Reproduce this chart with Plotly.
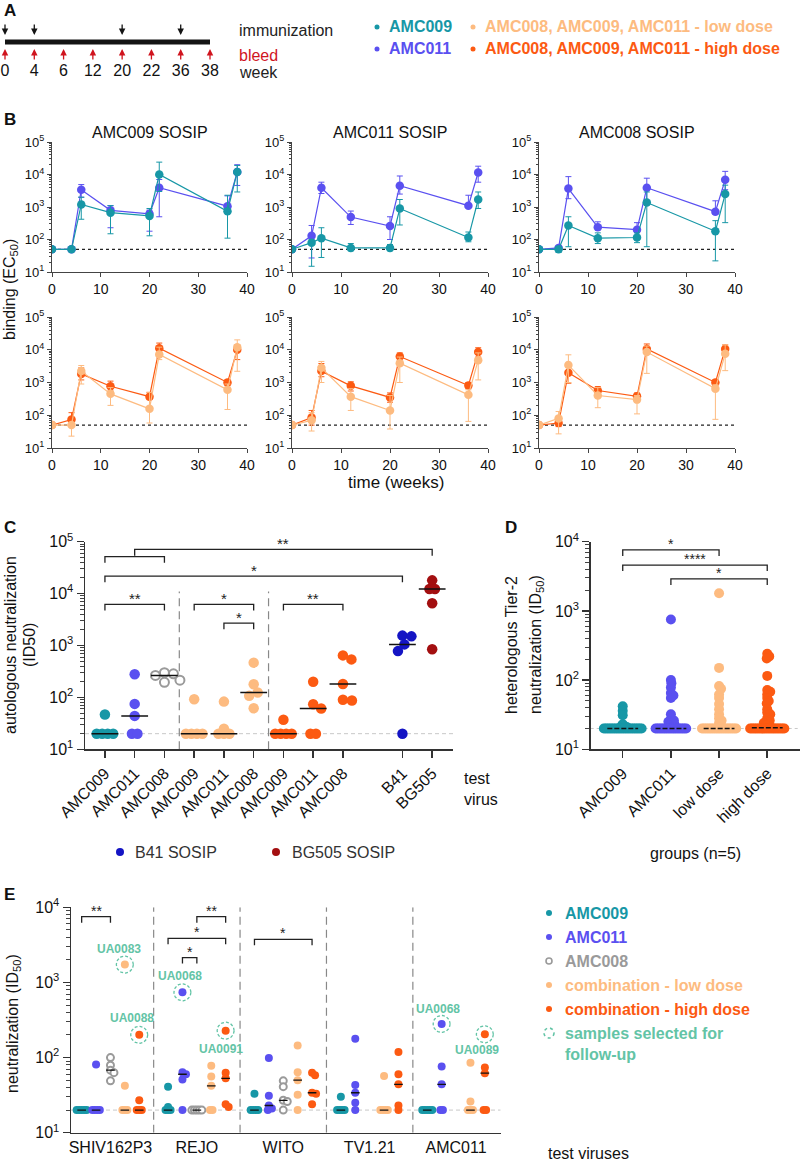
import numpy as np
import plotly.graph_objects as go

W, H = 800, 1163
FONT = "Liberation Sans, Arial, sans-serif"

C_AMC009 = "#1797a6"
C_AMC011 = "#5a50f0"
C_AMC008 = "#9a9a9a"
C_LOW = "#fdbb80"
C_HIGH = "#fc5a12"
C_B41 = "#1414c4"
C_BG505 = "#a30f10"
C_SEL = "#63c4a6"
C_BLEED = "#d0141e"

# ---------------- Panel A data ----------------
weeks = [0, 4, 6, 12, 20, 22, 36, 38]
immunization_weeks = [0, 4, 20, 36]
bleed_weeks = [0, 4, 6, 12, 20, 22, 36, 38]

# ---------------- Panel B data (binding EC50) ----------------
b_titles = ["AMC009 SOSIP", "AMC011 SOSIP", "AMC008 SOSIP"]
b_weeks = [0, 4, 6, 12, 20, 22, 36, 38]
b_cutoff = 50

# antigen AMC009 SOSIP
ag009_amc011 = [50, 50, 3400, 790, 620, 3900, 1060, 12000]
ag009_amc011_hi = [50, 50, 4900, 1100, 800, 7000, 2200, 20000]
ag009_amc011_lo = [50, 50, 2000, 230, 180, 500, 650, 4600]
ag009_amc009 = [50, 50, 1200, 670, 530, 10000, 740, 12000]
ag009_amc009_hi = [50, 50, 2000, 1100, 900, 24000, 2300, 19000]
ag009_amc009_lo = [50, 50, 420, 150, 130, 3000, 110, 2900]
ag009_high = [50, 74, 1830, 770, 370, 11200, 1000, 10000]
ag009_high_hi = [50, 120, 2800, 1100, 500, 16000, 1200, 14000]
ag009_high_lo = [50, 50, 1200, 550, 300, 8000, 800, 5000]
ag009_low = [50, 50, 2230, 450, 157, 7200, 600, 12000]
ag009_low_hi = [50, 60, 3300, 700, 500, 12000, 900, 20000]
ag009_low_lo = [50, 23, 900, 200, 58, 5000, 150, 2200]

# antigen AMC011 SOSIP
ag011_amc011 = [50, 130, 3900, 490, 260, 4500, 1100, 11500]
ag011_amc011_hi = [50, 270, 5800, 750, 500, 9000, 2300, 18000]
ag011_amc011_lo = [50, 27, 2600, 290, 100, 2500, 1000, 5800]
ag011_amc009 = [50, 80, 110, 55, 55, 900, 115, 1700]
ag011_amc009_hi = [50, 100, 230, 75, 70, 1700, 170, 2900]
ag011_amc009_lo = [50, 15, 28, 45, 45, 280, 85, 900]
ag011_high = [50, 85, 2230, 790, 350, 6200, 810, 8500]
ag011_high_hi = [50, 140, 3800, 1050, 480, 8000, 1000, 11500]
ag011_high_lo = [50, 50, 1500, 550, 250, 4500, 650, 6000]
ag011_low = [50, 70, 2800, 370, 140, 3900, 420, 4800]
ag011_low_hi = [50, 120, 4400, 650, 400, 6000, 600, 8000]
ag011_low_lo = [50, 33, 1000, 140, 38, 1000, 65, 1200]

# antigen AMC008 SOSIP
ag008_amc011 = [50, 55, 3700, 240, 200, 3900, 720, 6900]
ag008_amc011_hi = [50, 65, 8600, 350, 330, 7700, 1550, 12500]
ag008_amc011_lo = [50, 50, 1800, 200, 170, 1500, 600, 3400]
ag008_amc009 = [50, 50, 270, 110, 115, 1370, 180, 2500]
ag008_amc009_hi = [50, 60, 500, 160, 160, 2900, 380, 4700]
ag008_amc009_lo = [50, 40, 60, 75, 80, 60, 22, 330]
ag008_high = [50, 58, 2000, 570, 380, 10600, 1000, 10600]
ag008_high_hi = [50, 75, 3000, 750, 480, 15000, 1200, 14000]
ag008_high_lo = [50, 45, 950, 450, 300, 8000, 850, 8000]
ag008_low = [50, 80, 3400, 400, 300, 8500, 650, 7500]
ag008_low_hi = [50, 130, 7000, 700, 400, 13000, 850, 14000]
ag008_low_lo = [50, 27, 1000, 170, 110, 1900, 75, 2300]

# ---------------- Panel C data (autologous ID50) ----------------
c_test_virus = ["AMC009", "AMC011", "AMC008", "AMC009", "AMC011", "AMC008",
                "AMC009", "AMC011", "AMC008", "B41", "BG505"]
c_single = [[47, 20, 20, 20, 20], [279, 75, 44, 20, 20], [300, 285, 265, 215, 195]]
c_low = [[92, 20, 20, 20, 20], [83, 25, 20, 20, 20], [467, 179, 124, 107, 62]]
c_high = [[37, 20, 20, 20, 20], [200, 74, 61, 20, 20], [645, 540, 181, 90, 87]]
c_b41 = [1550, 1500, 1050, 780, 20]
c_bg505 = [18000, 12300, 12300, 6500, 845]
c_baseline = 20
# brackets: (group index from, group index to, level, label)
c_brackets = [(0, 2, 6200, "**"), (3, 5, 6200, "*"), (4, 5, 2700, "*"), (6, 8, 6200, "**"),
              (0, 9, 21800, "*"), (0, 2, 51600, ""), (1, 10, 71000, "**")]

# ---------------- Panel D data (heterologous tier-2) ----------------
d_groups = ["AMC009", "AMC011", "low dose", "high dose"]
d_amc009 = [42, 36, 31, 23, 22, 22, 21,
            20, 20, 20, 20, 20, 20, 20, 20, 20, 20, 20, 20, 20, 20, 20, 20, 20, 20, 20, 20, 20, 20]
d_amc011 = [750, 100, 90, 78, 65, 60, 55, 32, 27, 26, 25, 24, 23, 22, 21,
            20, 20, 20, 20, 20, 20, 20, 20, 20, 20, 20, 20, 20, 20, 20, 20, 20, 20]
d_low = [1800, 150, 82, 75, 62, 55, 45, 38, 32, 28, 26, 24, 22, 21,
         20, 20, 20, 20, 20, 20, 20, 20, 20, 20, 20, 20, 20, 20, 20, 20, 20, 20, 20, 20]
d_high = [240, 220, 205, 115, 72, 68, 62, 55, 50, 46, 38, 34, 32, 28, 26, 25, 24, 23, 22, 21,
          20, 20, 20, 20, 20, 20, 20, 20, 20, 20, 20, 20, 20, 20, 20, 20, 20, 20, 20, 20]
d_brackets = [(0, 2, 7600, "*"), (0, 3, 4600, "****"), (1, 3, 2900, "*")]

# ---------------- Panel E data (neutralization per test virus) ----------------
e_viruses = ["SHIV162P3", "REJO", "WITO", "TV1.21", "AMC011"]
e_amc009 = [[20, 20, 20, 20, 20], [41, 22, 20, 20, 20], [33, 20, 20, 20, 20],
            [30, 20, 20, 20, 20], [20, 20, 20, 20, 20]]
e_amc011 = [[81, 20, 20, 20, 20], [738, 64, 60, 51, 20], [99, 31, 23, 21, 20],
            [178, 43, 34, 25, 20], [280, 76, 44, 20, 20]]
e_amc008 = [[100, 79, 68, 63, 49], [20, 20, 20, 20, 20], [49, 41, 27, 26, 20], [], []]
e_low = [[1730, 42, 20, 20, 20], [78, 56, 42, 20, 20], [145, 64, 50, 32, 20],
         [57, 20, 20, 20, 20], [85, 26, 20, 20, 20]]
e_high = [[201, 27, 20, 20, 20], [228, 63, 53, 24, 22], [63, 58, 34, 33, 24],
          [119, 60, 44, 23, 20], [204, 74, 62, 20, 20]]
# brackets: (virus, group from, group to, level, label)
e_brackets = [(0, 0, 2, 7500, "**"), (1, 2, 4, 7500, "**"), (1, 0, 4, 3860, "*"),
              (1, 1, 2, 2140, "*"), (2, 0, 4, 3750, "*")]
# selected samples: (virus, group, value, name)
e_selected = [(0, 3, 1730, "UA0083"), (0, 4, 201, "UA0088"), (1, 1, 738, "UA0068"),
              (1, 4, 228, "UA0091"), (4, 1, 280, "UA0068"), (4, 4, 204, "UA0089")]
# label offsets in pixels (style)
e_sel_shift = [(-6, 16), (-7, 17), (-2, 16), (-5, -18), (-4, 15), (-8, -16)]

# ====================================================================
fig = go.Figure()
layout = dict(width=W, height=H, margin=dict(l=0, r=0, t=0, b=0, pad=0, autoexpand=False),
              autosize=False, paper_bgcolor="white", plot_bgcolor="white", showlegend=False,
              font=dict(family=FONT, color="#222"))
ann = []
shapes = []


def xd(x0, x1):
    return [x0 / W, x1 / W]


def yd(top, bottom):
    return [1 - bottom / H, 1 - top / H]


def refs(n):
    return ("x" if n == 1 else f"x{n}", "y" if n == 1 else f"y{n}")


def key(a, n):
    return f"{a}axis" if n == 1 else f"{a}axis{n}"


def paper_text(x, y, text, size=16, color="#222", xanchor="center", angle=0, bold=False, align="left"):
    ann.append(dict(xref="paper", yref="paper", x=x / W, y=1 - y / H, text=(f"<b>{text}</b>" if bold else text),
                    showarrow=False, xanchor=xanchor, yanchor="middle", textangle=angle, align=align,
                    font=dict(family=FONT, size=size, color=color)))


def dot(x, y, d, color, open_=False, dash=None):
    shapes.append(dict(type="circle", xref="paper", yref="paper",
                       x0=(x - d / 2) / W, x1=(x + d / 2) / W, y0=1 - (y + d / 2) / H, y1=1 - (y - d / 2) / H,
                       fillcolor=("rgba(0,0,0,0)" if open_ else color),
                       line=dict(color=color, width=(1.6 if open_ else 0), dash=dash)))


def log_ticks(lo, hi):
    vals = [10 ** p for p in range(lo, hi + 1)]
    txt = [f"10<sup>{p}</sup>" for p in range(lo, hi + 1)]
    return vals, txt


def swarm(vals, ppd, ppu, dmin, gap):
    n = len(vals)
    ylog = [np.log10(v) * ppd for v in vals]
    order = sorted(range(n), key=lambda i: -vals[i])
    offs = [0.0] * n
    placed = []
    k = 0
    while k < n:
        j = k
        while j < n and vals[order[j]] == vals[order[k]]:
            j += 1
        run = order[k:j]
        m = len(run)
        if m > 1:
            for r, idx in enumerate(run):
                o = (r - (m - 1) / 2) * gap
                offs[idx] = o
                placed.append((o, ylog[idx]))
        else:
            idx = run[0]
            c = 0
            found = None
            while found is None:
                cands = [0.0] if c == 0 else [c * 0.5, -c * 0.5]
                for o in cands:
                    if all((o - px) ** 2 + (ylog[idx] - py) ** 2 >= dmin ** 2 for px, py in placed):
                        found = o
                        break
                c += 1
            offs[idx] = found
            placed.append((found, ylog[idx]))
        k = j
    return [o / ppu for o in offs]


def bracket_trace(segs, xr, yr, drop_dec):
    xs, ys = [], []
    f = 10 ** drop_dec
    for x0, x1, lvl in segs:
        xs += [x0, x0, x1, x1, None]
        ys += [lvl / f, lvl, lvl, lvl / f, None]
    return go.Scatter(x=xs, y=ys, mode="lines", line=dict(color="#222", width=1.3),
                      xaxis=xr, yaxis=yr, hoverinfo="skip")


MINOR = dict(ticks="outside", ticklen=3, dtick="D1", tickcolor="#444", tickwidth=1, showgrid=False)

# ====================== Panel A (schematic timeline, evenly spaced bleeds) ======================
A_PX0, A_STEP = 5, 205 / (len(bleed_weeks) - 1)
a_cats = [str(w) for w in bleed_weeks]
layout["xaxis"] = dict(domain=xd(0, 300), type="category", categoryorder="array", categoryarray=a_cats,
                       range=[-A_PX0 / A_STEP, (300 - A_PX0) / A_STEP], visible=False, anchor="y",
                       automargin=False)
layout["yaxis"] = dict(domain=yd(0, 90), range=[90, 0], visible=False, anchor="x", automargin=False)
fig.add_trace(go.Scatter(x=[a_cats[0], a_cats[-1]], y=[42, 42], mode="lines",
                         line=dict(color="#141414", width=5), xaxis="x", yaxis="y"))
fig.add_trace(go.Scatter(x=a_cats, y=[72] * len(a_cats), mode="text", text=a_cats,
                         textfont=dict(size=16, color="#111", family=FONT), xaxis="x", yaxis="y"))
for w in immunization_weeks:
    ann.append(dict(xref="x", yref="y", x=a_cats.index(str(w)), y=35, ax=0, ay=-12, showarrow=True,
                    arrowhead=2, arrowsize=1, arrowwidth=1.3, arrowcolor="#141414", text=""))
for w in bleed_weeks:
    ann.append(dict(xref="x", yref="y", x=a_cats.index(str(w)), y=49, ax=0, ay=12, showarrow=True,
                    arrowhead=2, arrowsize=1, arrowwidth=1.3, arrowcolor=C_BLEED, text=""))
paper_text(237, 30, "immunization", xanchor="left")
paper_text(237, 55, "bleed", color=C_BLEED, xanchor="left")
paper_text(237, 72, "week", xanchor="left")
for (bx, by, col, txt) in [(377, 27, C_AMC009, "AMC009"), (377, 49, C_AMC011, "AMC011"),
                           (473, 27, C_LOW, "AMC008, AMC009, AMC011 - low dose"),
                           (473, 49, C_HIGH, "AMC008, AMC009, AMC011 - high dose")]:
    dot(bx, by, 5, col)
    paper_text(bx + 10, by, txt, color=col, xanchor="left", bold=True)

# panel letters
for (lx, ly, L) in [(2, 10, "A"), (2, 120, "B"), (2, 527, "C"), (503, 527, "D"), (2, 894, "E")]:
    paper_text(lx, ly, L, size=17, xanchor="left", bold=True, color="#111")

# ====================== Panel B ======================
b_cols_px = [(52, 247), (292, 488), (539, 735)]
b_rows_px = [(142, 272), (317, 448)]
B_XRANGE = [0, 40]
b_series = [
    [  # top row
        [("AMC011", C_AMC011, ag009_amc011, ag009_amc011_hi, ag009_amc011_lo),
         ("AMC009", C_AMC009, ag009_amc009, ag009_amc009_hi, ag009_amc009_lo)],
        [("AMC011", C_AMC011, ag011_amc011, ag011_amc011_hi, ag011_amc011_lo),
         ("AMC009", C_AMC009, ag011_amc009, ag011_amc009_hi, ag011_amc009_lo)],
        [("AMC011", C_AMC011, ag008_amc011, ag008_amc011_hi, ag008_amc011_lo),
         ("AMC009", C_AMC009, ag008_amc009, ag008_amc009_hi, ag008_amc009_lo)],
    ],
    [  # bottom row
        [("high", C_HIGH, ag009_high, ag009_high_hi, ag009_high_lo),
         ("low", C_LOW, ag009_low, ag009_low_hi, ag009_low_lo)],
        [("high", C_HIGH, ag011_high, ag011_high_hi, ag011_high_lo),
         ("low", C_LOW, ag011_low, ag011_low_hi, ag011_low_lo)],
        [("high", C_HIGH, ag008_high, ag008_high_hi, ag008_high_lo),
         ("low", C_LOW, ag008_low, ag008_low_hi, ag008_low_lo)],
    ],
]
bt_v, bt_t = log_ticks(1, 5)
for r in range(2):
    for c in range(3):
        n = 2 + r * 3 + c
        xr, yr = refs(n)
        layout[key("x", n)] = dict(domain=xd(*b_cols_px[c]), range=B_XRANGE, tickvals=[0, 10, 20, 30, 40],
                                   ticks="outside", ticklen=4, tickcolor="#444", showline=True,
                                   linecolor="#444", linewidth=1, showgrid=False, zeroline=False,
                                   tickfont=dict(size=14, color="#111"), anchor=yr, automargin=False)
        layout[key("y", n)] = dict(domain=yd(*b_rows_px[r]), type="log", range=[1, 5], tickmode="array",
                                   tickvals=bt_v, ticktext=bt_t, ticks="outside", ticklen=4,
                                   tickcolor="#444", showline=True, linecolor="#444", linewidth=1,
                                   showgrid=False, zeroline=False, minor=dict(MINOR, ticklen=2),
                                   tickfont=dict(size=13, color="#111"), anchor=xr, automargin=False)
        fig.add_trace(go.Scatter(x=B_XRANGE, y=[b_cutoff, b_cutoff], mode="lines",
                                 line=dict(color="#222", width=1.2, dash="dot"), xaxis=xr, yaxis=yr))
        for (nm, col, v, hi, lo) in b_series[r][c]:
            v = np.array(v, float)
            fig.add_trace(go.Scatter(
                x=b_weeks, y=v, mode="lines+markers", name=nm,
                line=dict(color=col, width=1.2), marker=dict(color=col, size=8.5),
                error_y=dict(type="data", symmetric=False, array=np.array(hi) - v,
                             arrayminus=v - np.array(lo), color=col, thickness=1, width=3),
                xaxis=xr, yaxis=yr))
        if r == 0:
            paper_text((b_cols_px[c][0] + b_cols_px[c][1]) / 2, 132, b_titles[c], size=16, color="#111")
paper_text(10, 290, "binding (EC<sub>50</sub>)", size=16, angle=-90, color="#111")
paper_text(396, 482, "time (weeks)", size=17, color="#111")

# ====================== Panel C ======================
NC = 8
xr, yr = refs(NC)
C_XRANGE = [-0.67, 11.7]
C_PPD = (749.3 - 541.7) / 4
C_PPU = (453 - 85) / (C_XRANGE[1] - C_XRANGE[0])
c_pos = [i if i < 9 else i + 1 for i in range(len(c_test_virus))]
c_vals = c_single + c_low + c_high + [c_b41, c_bg505]
c_cols = [C_AMC009, C_AMC011, C_AMC008, C_LOW, C_LOW, C_LOW, C_HIGH, C_HIGH, C_HIGH, C_B41, C_BG505]
ct_v, ct_t = log_ticks(1, 5)
layout[key("x", NC)] = dict(domain=xd(85, 453), range=C_XRANGE, tickmode="array", tickvals=c_pos,
                            ticktext=c_test_virus, tickangle=-45, ticks="outside", ticklen=7, tickwidth=1.5,
                            tickcolor="#333", showline=True, linecolor="#333", linewidth=1.5,
                            showgrid=False, zeroline=False, tickfont=dict(size=16, color="#111"), anchor=yr,
                            automargin=False)
layout[key("y", NC)] = dict(domain=yd(541.7, 749.3), type="log", range=[1, 5], tickmode="array",
                            tickvals=ct_v, ticktext=ct_t, ticks="outside", ticklen=7, tickwidth=1.5,
                            tickcolor="#333", showline=True, linecolor="#333", linewidth=1.5,
                            showgrid=False, zeroline=False, minor=dict(MINOR, ticklen=4),
                            tickfont=dict(size=16, color="#111"), anchor=xr, automargin=False)
fig.add_trace(go.Scatter(x=C_XRANGE, y=[c_baseline] * 2, mode="lines",
                         line=dict(color="#c8c8c8", width=1, dash="4px,3px"), xaxis=xr, yaxis=yr))
for sep in [(c_pos[2] + c_pos[3]) / 2, (c_pos[5] + c_pos[6]) / 2]:
    fig.add_trace(go.Scatter(x=[sep, sep], y=[10, 11000], mode="lines",
                             line=dict(color="#888", width=1.2, dash="8px,5px"), xaxis=xr, yaxis=yr))
med_x, med_y = [], []
for i, vals in enumerate(c_vals):
    offs = swarm(vals, C_PPD, C_PPU, 9, 5.5)
    is_open = c_cols[i] == C_AMC008
    fig.add_trace(go.Scatter(
        x=[c_pos[i] + o for o in offs], y=vals, mode="markers",
        marker=dict(color=("white" if is_open else c_cols[i]), size=(9 if is_open else 10.5),
                    line=dict(color=c_cols[i], width=(2 if is_open else 0))),
        xaxis=xr, yaxis=yr))
    m = float(np.median(vals))
    med_x += [c_pos[i] - 0.45, c_pos[i] + 0.45, None]
    med_y += [m, m, None]
fig.add_trace(go.Scatter(x=med_x, y=med_y, mode="lines", line=dict(color="#111", width=1.5),
                         xaxis=xr, yaxis=yr))
segs = [(c_pos[a], c_pos[b], lvl) for a, b, lvl, _ in c_brackets]
fig.add_trace(bracket_trace(segs, xr, yr, 0.12))
for a, b, lvl, lab in c_brackets:
    if lab:
        ann.append(dict(xref=xr, yref=yr, x=(c_pos[a] + c_pos[b]) / 2, y=np.log10(lvl), text=lab,
                        showarrow=False, yanchor="middle", yshift=6, font=dict(size=15, color="#222")))
paper_text(10, 645, "autologous neutralization", size=16, angle=-90, color="#111")
paper_text(29, 645, "(ID50)", size=16, angle=-90, color="#111")
paper_text(462, 789, "test<br>virus", size=16, xanchor="left", color="#111")
dot(120, 852, 8, C_B41)
paper_text(133, 852, "B41 SOSIP", size=16, xanchor="left", color="#333")
dot(276, 852, 8, C_BG505)
paper_text(290, 852, "BG505 SOSIP", size=16, xanchor="left", color="#333")

# ====================== Panel D ======================
ND = 9
xr, yr = refs(ND)
D_XRANGE = [-0.665, 3.68]
D_PPD = (749.3 - 541.7) / 3
D_PPU = (800 - 590.7) / (D_XRANGE[1] - D_XRANGE[0])
dt_v, dt_t = log_ticks(1, 4)
d_vals = [d_amc009, d_amc011, d_low, d_high]
d_cols = [C_AMC009, C_AMC011, C_LOW, C_HIGH]
layout[key("x", ND)] = dict(domain=xd(590.7, 800), range=D_XRANGE, tickmode="array",
                            tickvals=list(range(len(d_groups))), ticktext=d_groups, tickangle=-45,
                            ticks="outside", ticklen=7, tickwidth=1.5, tickcolor="#333", showline=True,
                            linecolor="#333", linewidth=1.5, showgrid=False, zeroline=False,
                            tickfont=dict(size=16, color="#111"), anchor=yr, automargin=False)
layout[key("y", ND)] = dict(domain=yd(541.7, 749.3), type="log", range=[1, 4], tickmode="array",
                            tickvals=dt_v, ticktext=dt_t, ticks="outside", ticklen=7, tickwidth=1.5,
                            tickcolor="#333", showline=True, linecolor="#333", linewidth=1.5,
                            showgrid=False, zeroline=False, minor=dict(MINOR, ticklen=4),
                            tickfont=dict(size=16, color="#111"), anchor=xr, automargin=False)
fig.add_trace(go.Scatter(x=D_XRANGE, y=[c_baseline] * 2, mode="lines",
                         line=dict(color="#c8c8c8", width=1, dash="dot"), xaxis=xr, yaxis=yr))
med_x, med_y = [], []
for i, vals in enumerate(d_vals):
    offs = swarm(vals, D_PPD, D_PPU, 3.2, 1.8)
    fig.add_trace(go.Scatter(x=[i + o for o in offs], y=vals, mode="markers",
                             marker=dict(color=d_cols[i], size=10), xaxis=xr, yaxis=yr))
    m = float(np.median(vals))
    med_x += [i - 0.32, i + 0.32, None]
    med_y += [m, m, None]
fig.add_trace(go.Scatter(x=med_x, y=med_y, mode="lines", line=dict(color="#111", width=1.5, dash="5px,2px"),
                         xaxis=xr, yaxis=yr))
fig.add_trace(bracket_trace([(a, b, lvl) for a, b, lvl, _ in d_brackets], xr, yr, 6 / D_PPD))
for a, b, lvl, lab in d_brackets:
    ann.append(dict(xref=xr, yref=yr, x=(a + b) / 2, y=np.log10(lvl), text=lab, showarrow=False,
                    yanchor="middle", yshift=6, font=dict(size=14, color="#222")))
paper_text(511, 645, "heterologous Tier-2", size=16, angle=-90, color="#111")
paper_text(536, 645, "neutralization (ID<sub>50</sub>)", size=16, angle=-90, color="#111")
paper_text(695, 853, "groups (n=5)", size=16, color="#111")

# ====================== Panel E ======================
NE = 10
xr, yr = refs(NE)
E_XRANGE = [-0.74, 29.1]
E_PPD = (1132.7 - 907.3) / 3
E_PPU = (500.7 - 71) / (E_XRANGE[1] - E_XRANGE[0])
E_STRIDE = 6
e_sets = [e_amc009, e_amc011, e_amc008, e_low, e_high]
e_cols = [C_AMC009, C_AMC011, C_AMC008, C_LOW, C_HIGH]
et_v, et_t = log_ticks(1, 4)
layout[key("x", NE)] = dict(domain=xd(71, 500.7), range=E_XRANGE, tickmode="array",
                            tickvals=[v * E_STRIDE + 2 for v in range(len(e_viruses))], ticktext=e_viruses,
                            ticks="", showline=True, linecolor="#333", linewidth=1.5, showgrid=False,
                            zeroline=False, tickfont=dict(size=16, color="#111"), anchor=yr, automargin=False)
layout[key("y", NE)] = dict(domain=yd(907.3, 1132.7), type="log", range=[1, 4], tickmode="array",
                            tickvals=et_v, ticktext=et_t, ticks="outside", ticklen=7, tickwidth=1.5,
                            tickcolor="#333", showline=True, linecolor="#333", linewidth=1.5,
                            showgrid=False, zeroline=False, minor=dict(MINOR, ticklen=4),
                            tickfont=dict(size=16, color="#111"), anchor=xr, automargin=False)
fig.add_trace(go.Scatter(x=E_XRANGE, y=[c_baseline] * 2, mode="lines",
                         line=dict(color="#c8c8c8", width=1, dash="4px,3px"), xaxis=xr, yaxis=yr))
for v in range(len(e_viruses) - 1):
    sx = v * E_STRIDE + 5
    fig.add_trace(go.Scatter(x=[sx, sx], y=[10, 10000], mode="lines",
                             line=dict(color="#888", width=1.2, dash="8px,5px"), xaxis=xr, yaxis=yr))
med_x, med_y = [], []
e_offsets = {}
for g, sets in enumerate(e_sets):
    xs, ys = [], []
    for v, vals in enumerate(sets):
        if not vals:
            continue
        offs = swarm(vals, E_PPD, E_PPU, 4, 2.5)
        e_offsets[(v, g)] = (vals, offs)
        base = v * E_STRIDE + g
        xs += [base + o for o in offs]
        ys += vals
        m = float(np.median(vals))
        med_x += [base - 0.3, base + 0.3, None]
        med_y += [m, m, None]
    is_open = e_cols[g] == C_AMC008
    fig.add_trace(go.Scatter(x=xs, y=ys, mode="markers",
                             marker=dict(color=("white" if is_open else e_cols[g]), size=(7 if is_open else 8),
                                         line=dict(color=e_cols[g], width=(2 if is_open else 0))),
                             xaxis=xr, yaxis=yr))
fig.add_trace(go.Scatter(x=med_x, y=med_y, mode="lines", line=dict(color="#111", width=1.3),
                         xaxis=xr, yaxis=yr))
segs = [(v * E_STRIDE + a, v * E_STRIDE + b, lvl) for v, a, b, lvl, _ in e_brackets]
fig.add_trace(bracket_trace(segs, xr, yr, 6 / E_PPD))
for v, a, b, lvl, lab in e_brackets:
    ann.append(dict(xref=xr, yref=yr, x=v * E_STRIDE + (a + b) / 2, y=np.log10(lvl), text=lab,
                    showarrow=False, yanchor="middle", yshift=6, font=dict(size=14, color="#222")))
t = np.linspace(0, 2 * np.pi, 60)
R = 8.5
for (v, g, val, name), (sx, sy) in zip(e_selected, e_sel_shift):
    vals, offs = e_offsets[(v, g)]
    xc = v * E_STRIDE + g + offs[vals.index(val)]
    fig.add_trace(go.Scatter(x=xc + R * np.cos(t) / E_PPU, y=val * 10 ** (R * np.sin(t) / E_PPD),
                             mode="lines", line=dict(color=C_SEL, width=1.3, dash="3px,2px"),
                             xaxis=xr, yaxis=yr))
    ann.append(dict(xref=xr, yref=yr, x=xc, y=np.log10(val), text=f"<b>{name}</b>", showarrow=False,
                    xshift=sx, yshift=sy, font=dict(size=12, color=C_SEL)))
paper_text(13, 1024, "neutralization (ID<sub>50</sub>)", size=16, angle=-90, color="#111")
paper_text(588, 1153, "test viruses", size=16, color="#111")
leg_rows = [(913, C_AMC009, "AMC009", False), (937, C_AMC011, "AMC011", False),
            (961, C_AMC008, "AMC008", True), (985, C_LOW, "combination - low dose", False),
            (1009, C_HIGH, "combination - high dose", False)]
for y, col, txt, op in leg_rows:
    dot(549, y, 6, col, open_=op)
    paper_text(563, y, txt, size=16, xanchor="left", bold=True, color=col)
dot(549, 1033, 10, C_SEL, open_=True, dash="dot")
paper_text(563, 1044, "samples selected for<br>follow-up", size=16, xanchor="left", bold=True, color=C_SEL)

layout["annotations"] = ann
layout["shapes"] = shapes
fig.update_layout(layout)
fig.write_html("out.html", config={"displayModeBar": False, "staticPlot": True},
               post_script="document.body.style.margin='0';document.body.style.padding='0';"
                           "document.body.style.overflow='hidden';")
